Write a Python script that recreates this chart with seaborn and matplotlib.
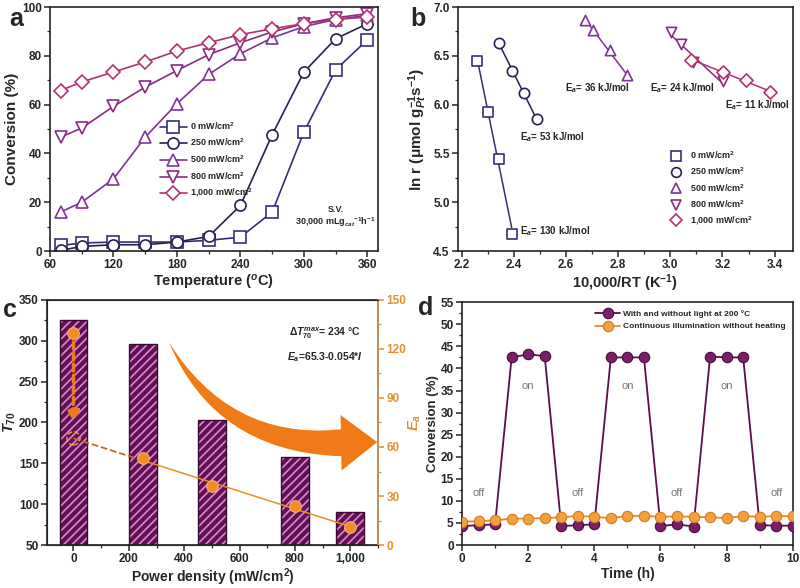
import numpy as np
import pandas as pd
import matplotlib
matplotlib.use("Agg")
import matplotlib.pyplot as plt
import seaborn as sns
from matplotlib.patches import Rectangle, FancyArrowPatch
from matplotlib.ticker import MultipleLocator, FixedLocator
from matplotlib.lines import Line2D

# ---------------- datos ----------------
# (a) conversión vs temperatura
temps = [70, 90, 120, 150, 180, 210, 240, 270, 300, 330, 360]
conv_0 = [2.3, 3.3, 3.7, 3.7, 3.7, 4.4, 5.7, 16.0, 48.8, 74.3, 86.6]
conv_250 = [0.3, 1.9, 2.6, 2.6, 3.7, 6.0, 18.7, 47.7, 73.4, 87.0, 93.2]
conv_500 = [16.0, 20.0, 29.6, 46.7, 60.4, 72.4, 80.9, 87.4, 92.0, 94.9, 96.6]
conv_800 = [46.7, 50.4, 59.3, 67.2, 74.0, 80.5, 85.4, 89.8, 93.2, 95.6, 97.3]
conv_1000 = [65.8, 69.3, 73.4, 77.5, 82.0, 85.4, 88.7, 91.1, 93.2, 94.9, 95.9]
power_labels = ["0 mW/cm$^2$", "250 mW/cm$^2$", "500 mW/cm$^2$",
                "800 mW/cm$^2$", "1,000 mW/cm$^2$"]

# (b) Arrhenius
arr_x0 = [2.257, 2.302, 2.344, 2.391]
arr_y0 = [6.45, 5.92, 5.44, 4.68]
arr_x250 = [2.344, 2.391, 2.439, 2.487]
arr_y250 = [6.63, 6.34, 6.12, 5.85]
arr_x500 = [2.672, 2.704, 2.768, 2.832]
arr_y500 = [6.87, 6.76, 6.56, 6.30]
arr_x800 = [3.004, 3.042, 3.087, 3.202]
arr_y800 = [6.74, 6.62, 6.44, 6.24]
arr_x1000 = [3.080, 3.202, 3.292, 3.381]
arr_y1000 = [6.46, 6.33, 6.25, 6.13]
ea_labels = ["130", "53", "36", "24", "11"]

# (c) T70 y Ea vs densidad de potencia
power = [0, 250, 500, 800, 1000]
t70 = [325, 296, 203, 158, 90]
ea = [130, 53, 36, 24, 11]
fit_x = [0, 250, 1000]
fit_y = [65.3, 51.8, 11.3]

# (d) estabilidad on/off
time_h = [0, 0.5, 1, 1.5, 2, 2.5, 3, 3.5, 4, 4.5, 5, 5.5, 6, 6.5, 7, 7.5, 8, 8.5, 9, 9.5, 10]
conv_onoff = [4.3, 4.5, 4.7, 42.5, 43.2, 42.8, 4.3, 4.5, 4.7, 42.5, 42.5, 42.5,
              4.3, 4.7, 4.2, 42.7, 42.5, 42.5, 4.5, 4.4, 4.4]
conv_light = [5.3, 5.4, 5.6, 6.0, 6.0, 6.1, 6.3, 6.6, 6.4, 6.1, 6.6, 6.6,
              6.4, 6.5, 6.4, 6.3, 6.1, 6.6, 6.4, 6.6, 6.5]

# ---------------- estilo ----------------
sns.set_style("ticks")
plt.rcParams['font.family'] = ['Liberation Sans', 'DejaVu Sans']
plt.rcParams['font.weight'] = 'bold'
plt.rcParams['axes.labelweight'] = 'bold'
plt.rcParams['mathtext.fontset'] = 'custom'
plt.rcParams['mathtext.rm'] = 'Liberation Sans:bold'
plt.rcParams['mathtext.it'] = 'Liberation Sans:italic:bold'
plt.rcParams['mathtext.bf'] = 'Liberation Sans:bold'
plt.rcParams['hatch.linewidth'] = 1.2

colors = ['#33307a', '#2c1d55', '#7d3596', '#8c2a80', '#b2336f']
markers = ['s', 'o', '^', 'v', 'D']

fig = plt.figure(figsize=(8, 5.88), dpi=100)
ax_a = fig.add_axes([0.0625, 0.573, 0.41, 0.415])
ax_b = fig.add_axes([0.5725, 0.573, 0.4185, 0.415])
ax_c = fig.add_axes([0.059, 0.073, 0.4135, 0.417])
ax_d = fig.add_axes([0.5775, 0.073, 0.4135, 0.413])


def style_ax(ax, tsize=8.5):
    for s in ax.spines.values():
        s.set_linewidth(1.2)
        s.set_color('#222222')
    ax.tick_params(which='major', direction='out', length=4, width=1.1, labelsize=tsize,
                   top=False, right=False, pad=2)
    ax.tick_params(which='minor', direction='out', length=2.5, width=0.9,
                   top=False, right=False)


# ---------------- (a) ----------------
series_a = [conv_0, conv_250, conv_500, conv_800, conv_1000]
for vals, c, m, lab in zip(series_a, colors, markers, power_labels):
    sns.lineplot(x=temps, y=vals, ax=ax_a, color=c, marker=m, mfc='white', mec=c,
                 mew=1.2, ms=8 if m != 'D' else 7, lw=1.2, label=lab)
ax_a.set_xlim(60, 370)
ax_a.set_ylim(0, 100)
ax_a.xaxis.set_major_locator(MultipleLocator(60))
ax_a.xaxis.set_minor_locator(MultipleLocator(30))
ax_a.yaxis.set_major_locator(MultipleLocator(20))
ax_a.yaxis.set_minor_locator(MultipleLocator(10))
ax_a.set_xlabel("Temperature ($^{o}$C)", fontsize=10.5, labelpad=1)
ax_a.set_ylabel("Conversion (%)", fontsize=11, labelpad=2)
style_ax(ax_a)
ax_a.legend(loc='upper left', bbox_to_anchor=(0.31, 0.57), frameon=False, fontsize=6.5,
            handlelength=3, labelspacing=0.55, handletextpad=0.3)
ax_a.text(0.87, 0.16, "S.V.", transform=ax_a.transAxes, ha='center', fontsize=6.5)
ax_a.text(0.87, 0.105, "30,000 mLg$_{cat}$$^{-1}$h$^{-1}$", transform=ax_a.transAxes,
          ha='center', fontsize=6.5)

# ---------------- (b) ----------------
arr_sets = [(arr_x0, arr_y0), (arr_x250, arr_y250), (arr_x500, arr_y500),
            (arr_x800, arr_y800), (arr_x1000, arr_y1000)]
for (xs, ys), c, m, lab in zip(arr_sets, colors, markers, power_labels):
    sns.regplot(x=np.array(xs), y=np.array(ys), ax=ax_b, ci=None, truncate=True,
                scatter=False, line_kws=dict(color=c, lw=1.1))
    sns.scatterplot(x=xs, y=ys, ax=ax_b, marker=m, s=55 if m != 'D' else 45,
                    facecolor='white', edgecolor=c, linewidth=1.2, zorder=3)
ax_b.set_xlim(2.185, 3.47)
ax_b.set_ylim(4.5, 7.0)
ax_b.xaxis.set_major_locator(MultipleLocator(0.2))
ax_b.xaxis.set_minor_locator(MultipleLocator(0.1))
ax_b.yaxis.set_major_locator(MultipleLocator(0.5))
ax_b.yaxis.set_minor_locator(MultipleLocator(0.25))
ax_b.set_xlabel("10,000/RT (K$^{-1}$)", fontsize=10.5, labelpad=1)
ax_b.set_ylabel("ln r (μmol g$_{Pt}^{-1}$s$^{-1}$)", fontsize=11, labelpad=3)
style_ax(ax_b)
ea_pos = [(2.423, 4.70), (2.423, 5.67), (2.597, 6.17), (2.92, 6.17), (3.21, 6.0)]
for (px, py), e in zip(ea_pos, ea_labels):
    ax_b.text(px, py, f"E$_a$= {e} kJ/mol", fontsize=7, va='center')
handles_b = [Line2D([], [], ls='none', marker=m, mfc='white', mec=c, mew=1.2,
                    ms=7 if m != 'D' else 6) for c, m in zip(colors, markers)]
ax_b.legend(handles_b, power_labels, loc='upper left', bbox_to_anchor=(0.6, 0.45),
            frameon=False, fontsize=6.5, handletextpad=0.6, labelspacing=0.5)

# ---------------- (c) ----------------
bar_face = '#5c1450'
df_c = pd.DataFrame({"power": power, "t70": t70})
sns.barplot(data=df_c, x="power", y="t70", ax=ax_c, native_scale=True, width=0.5,
            color=bar_face, saturation=1, zorder=2)
for p in ax_c.patches:
    p.set_hatch('////')
    p.set_edgecolor('#e67fda')
    p.set_linewidth(0)
    bb = p.get_bbox()
    ax_c.add_patch(Rectangle((bb.x0, bb.y0), bb.width, bb.height, fill=False,
                             ec='#3a0a30', lw=1.0, zorder=3))
ax_c.set_xlim(-95, 1100)
ax_c.set_ylim(50, 350)
ax_c.xaxis.set_major_locator(FixedLocator([0, 200, 400, 600, 800, 1000]))
ax_c.set_xticklabels(["0", "200", "400", "600", "800", "1,000"])
ax_c.xaxis.set_minor_locator(MultipleLocator(100))
ax_c.yaxis.set_major_locator(MultipleLocator(50))
ax_c.yaxis.set_minor_locator(MultipleLocator(25))
ax_c.set_xlabel("Power density (mW/cm$^2$)", fontsize=10, labelpad=1)
ax_c.set_ylabel("$\\mathit{T}_{70}$", fontsize=10.5, labelpad=1)
style_ax(ax_c)

ax_c2 = ax_c.twinx()
ax_c2.set_ylim(0, 150)
ax_c2.yaxis.set_major_locator(MultipleLocator(30))
ax_c2.yaxis.set_minor_locator(MultipleLocator(15))
ax_c2.tick_params(which='major', direction='out', length=4, width=1.1, labelsize=8.5,
                  colors='#e0922e', pad=2)
ax_c2.tick_params(which='minor', direction='out', length=2.5, width=0.9, colors='#e0922e')
ax_c2.spines['right'].set_color('#d9a060')
ax_c2.spines['right'].set_linewidth(1.2)
ax_c2.set_ylabel("$\\mathit{E}_a$", fontsize=10.5, color='#e0922e', labelpad=0)
sns.lineplot(x=fit_x[1:], y=fit_y[1:], ax=ax_c2, color='#e8901e', lw=1.1)
sns.lineplot(x=fit_x[:2], y=fit_y[:2], ax=ax_c2, color='#c66a1a', lw=1.3, ls='--')
sns.scatterplot(x=power, y=ea, ax=ax_c2, s=70, color='#f28c28', edgecolor='#f7b26a',
                linewidth=0.8, zorder=5)
ax_c2.scatter([fit_x[0]], [fit_y[0]], s=90, facecolor='none', edgecolor='#f2a050',
              linestyle='--', lw=1.0, zorder=5)
ax_c2.annotate("", xy=(0, 74), xytext=(0, 126),
               arrowprops=dict(arrowstyle='-|>,head_length=0.6,head_width=0.35',
                               color='#f07a20', lw=2.5, ls=(0, (2, 1.2))))
# flecha curva grande: cuerpo en cuña + punta
body = FancyArrowPatch((955, 62.5), (345, 124), connectionstyle="arc3,rad=-0.31",
                       arrowstyle="wedge,tail_width=1.9,shrink_factor=0.55",
                       color='#f07a18', lw=0, zorder=6, mutation_scale=10,
                       shrinkA=0, shrinkB=0)
head = FancyArrowPatch((940, 62.5), (1097, 63),
                       arrowstyle="simple,head_length=2.6,head_width=4.0,tail_width=1.9",
                       color='#f07a18', lw=0, zorder=6, mutation_scale=10,
                       shrinkA=0, shrinkB=0)
ax_c2.add_patch(body)
ax_c2.add_patch(head)
ax_c.text(0.84, 0.865, "$\\Delta\\mathit{T}_{70}^{max}$= 234 °C", transform=ax_c.transAxes,
          ha='center', va='center', fontsize=7.5)
ax_c.text(0.84, 0.765, "$\\mathit{E}_a$=65.3-0.054*$\\mathit{I}$", transform=ax_c.transAxes,
          ha='center', va='center', fontsize=7.5)

# ---------------- (d) ----------------
purple_d = '#5a0f4a'
sns.lineplot(x=time_h, y=conv_onoff, ax=ax_d, color=purple_d, lw=1.3, marker='o', ms=7.5,
             mfc='#7a1f6a', mec='#4a0a3c', mew=0.8, label="With and without light at 200 °C",
             zorder=3)
sns.lineplot(x=time_h, y=conv_light, ax=ax_d, color='#ec8a22', lw=1.3, marker='o', ms=7.5,
             mfc='#f2a040', mec='#d87a1a', mew=0.8, label="Continuous illumination without heating",
             zorder=4)
ax_d.set_xlim(0, 10)
ax_d.set_ylim(0, 55)
ax_d.xaxis.set_major_locator(MultipleLocator(2))
ax_d.xaxis.set_minor_locator(MultipleLocator(1))
ax_d.yaxis.set_major_locator(MultipleLocator(5))
ax_d.yaxis.set_minor_locator(MultipleLocator(2.5))
ax_d.set_xlabel("Time (h)", fontsize=10, labelpad=1)
ax_d.set_ylabel("Conversion (%)", fontsize=9.5, labelpad=1)
style_ax(ax_d)
ax_d.legend(loc='upper right', bbox_to_anchor=(1.0, 1.0), frameon=False, fontsize=6,
            handlelength=3, labelspacing=0.6, handletextpad=0.3)
for t in [2, 5, 8]:
    ax_d.text(t, 36, "on", ha='center', va='center', fontsize=8, color='#777777',
              fontweight='normal')
for t in [0.5, 3.5, 6.5, 9.5]:
    ax_d.text(t, 11.8, "off", ha='center', va='center', fontsize=8, color='#777777',
              fontweight='normal')

# etiquetas de panel
for lbl, (fx, fy) in zip("abcd", [(0.012, 0.968), (0.513, 0.968), (0.004, 0.472), (0.523, 0.476)]):
    fig.text(fx, fy, lbl, fontsize=18, fontweight='bold', va='center')

fig.savefig("out.png", dpi=100)
